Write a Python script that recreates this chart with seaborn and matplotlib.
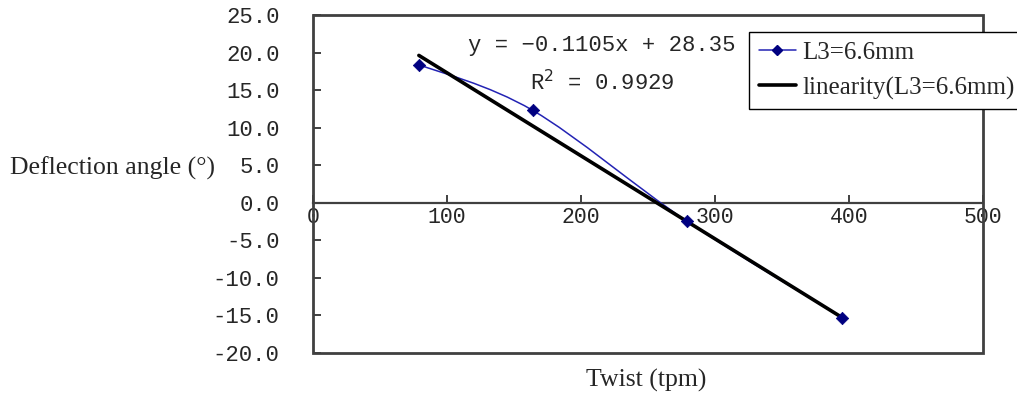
import matplotlib
matplotlib.use("Agg")
import matplotlib.pyplot as plt
from matplotlib.path import Path
from matplotlib.patches import PathPatch, Rectangle
from matplotlib.lines import Line2D
import numpy as np
import pandas as pd
import seaborn as sns

# Measured deflection angle against yarn twist
twist = [79, 164, 279, 395]
angle = [18.4, 12.3, -2.45, -15.3]

# Linear fit reported on the chart
slope = -0.1105
intercept = 28.35
r_squared = 0.9929

series_label = "L3=6.6mm"
fit_label = "linearity(L3=6.6mm)"
x_label = "Twist (tpm)"
y_label = "Deflection angle (°)"
x_ticks = [0, 100, 200, 300, 400, 500]
y_ticks = [-20, -15, -10, -5, 0, 5, 10, 15, 20, 25]

sns.set_style("white")
plt.rcParams["font.family"] = ["Liberation Serif", "DejaVu Serif"]
MONO = ["Liberation Mono", "DejaVu Sans Mono"]

W, H = 1017, 399
fig = plt.figure(figsize=(W / 100, H / 100), dpi=100)
left, right, top, bottom = 313, 983, 15, 353
ax = fig.add_axes([left / W, 1 - bottom / H, (right - left) / W, (bottom - top) / H])

series_color = "#2323b4"
marker_color = "#000080"
frame_color = "#404040"

df = pd.DataFrame({"twist": twist, "angle": angle})

# Smoothed series line (Catmull-Rom converted to cubic Bezier segments)
pts = np.column_stack([twist, angle]).astype(float)
ext = np.vstack([pts[0], pts, pts[-1]])
verts = [tuple(pts[0])]
codes = [Path.MOVETO]
for i in range(1, len(ext) - 2):
    p0, p1, p2, p3 = ext[i - 1], ext[i], ext[i + 1], ext[i + 2]
    c1 = p1 + (p2 - p0) / 6.0
    c2 = p2 - (p3 - p1) / 6.0
    verts += [tuple(c1), tuple(c2), tuple(p2)]
    codes += [Path.CURVE4] * 3
ax.add_patch(PathPatch(Path(verts, codes), facecolor="none",
                       edgecolor=series_color, lw=1.1, zorder=3))

# Linear trend line over the measured range
fit_x = [min(twist), max(twist)]
fit_df = pd.DataFrame({"twist": fit_x,
                       "angle": [slope * v + intercept for v in fit_x]})
sns.lineplot(data=fit_df, x="twist", y="angle", ax=ax, color="black",
             lw=2.6, zorder=4, legend=False)

sns.scatterplot(data=df, x="twist", y="angle", ax=ax, marker="D", s=40,
                color=marker_color, edgecolor=marker_color, zorder=5,
                legend=False)

ax.set_xlim(0, 500)
ax.set_ylim(-20, 25)

# x axis crosses at zero, frame drawn as a box around the plot area
for s in ["left", "right", "top"]:
    ax.spines[s].set_visible(False)
ax.spines["bottom"].set_position(("data", 0))
ax.spines["bottom"].set_color(frame_color)
ax.spines["bottom"].set_linewidth(1.6)
ax.add_patch(Rectangle((0, 0), 1, 1, transform=ax.transAxes, fill=False,
                       ec=frame_color, lw=2.0, clip_on=False, zorder=6))

ax.set_xticks(x_ticks)
ax.set_xticklabels([str(v) for v in x_ticks])
ax.set_yticks(y_ticks)
ax.set_yticklabels([f"{v:.1f}" for v in y_ticks])
ax.tick_params(axis="x", direction="in", length=6, width=1.4,
               color=frame_color, pad=3, labelsize=15.5)
ax.tick_params(axis="y", direction="in", length=6, width=1.4,
               color=frame_color, pad=24, labelsize=16)
for lab in ax.get_xticklabels() + ax.get_yticklabels():
    lab.set_family(MONO)
ax.xaxis.set_ticks_position("bottom")
ax.yaxis.set_ticks_position("left")

ax.set_xlabel("")
ax.set_ylabel("")
fig.text(646 / W, 1 - 380 / H, x_label, ha="center", va="center",
         fontsize=18.5)
fig.text(10 / W, 1 - 168 / H, y_label, ha="left", va="center",
         fontsize=18.5)

# Regression equation and coefficient of determination
eq = f"y = {slope:.4f}x + {intercept:.2f}".replace("-", "\u2212")
fig.text(602 / W, 1 - 45 / H, eq, ha="center", va="center", fontsize=16,
         family=MONO)
fig.text(602 / W, 1 - 83 / H, f"R$^2$ = {r_squared:.4f}", ha="center",
         va="center", fontsize=16, family=MONO)

handles = [
    Line2D([], [], color=series_color, lw=1.1, marker="D", markersize=5,
           markerfacecolor=marker_color, markeredgecolor=marker_color),
    Line2D([], [], color="black", lw=2.6),
]
leg = fig.legend(handles, [series_label, fit_label], loc="upper left",
                 bbox_to_anchor=(749 / W, 1 - 32 / H),
                 bbox_transform=fig.transFigure, frameon=True, fancybox=False,
                 edgecolor="black", framealpha=1, borderaxespad=0,
                 handlelength=1.5, handletextpad=0.25, borderpad=0.38,
                 labelspacing=0.5, prop={"size": 18})
leg.get_frame().set_linewidth(1.0)
leg.set_zorder(10)

fig.savefig("out.png", dpi=100, facecolor="white")
